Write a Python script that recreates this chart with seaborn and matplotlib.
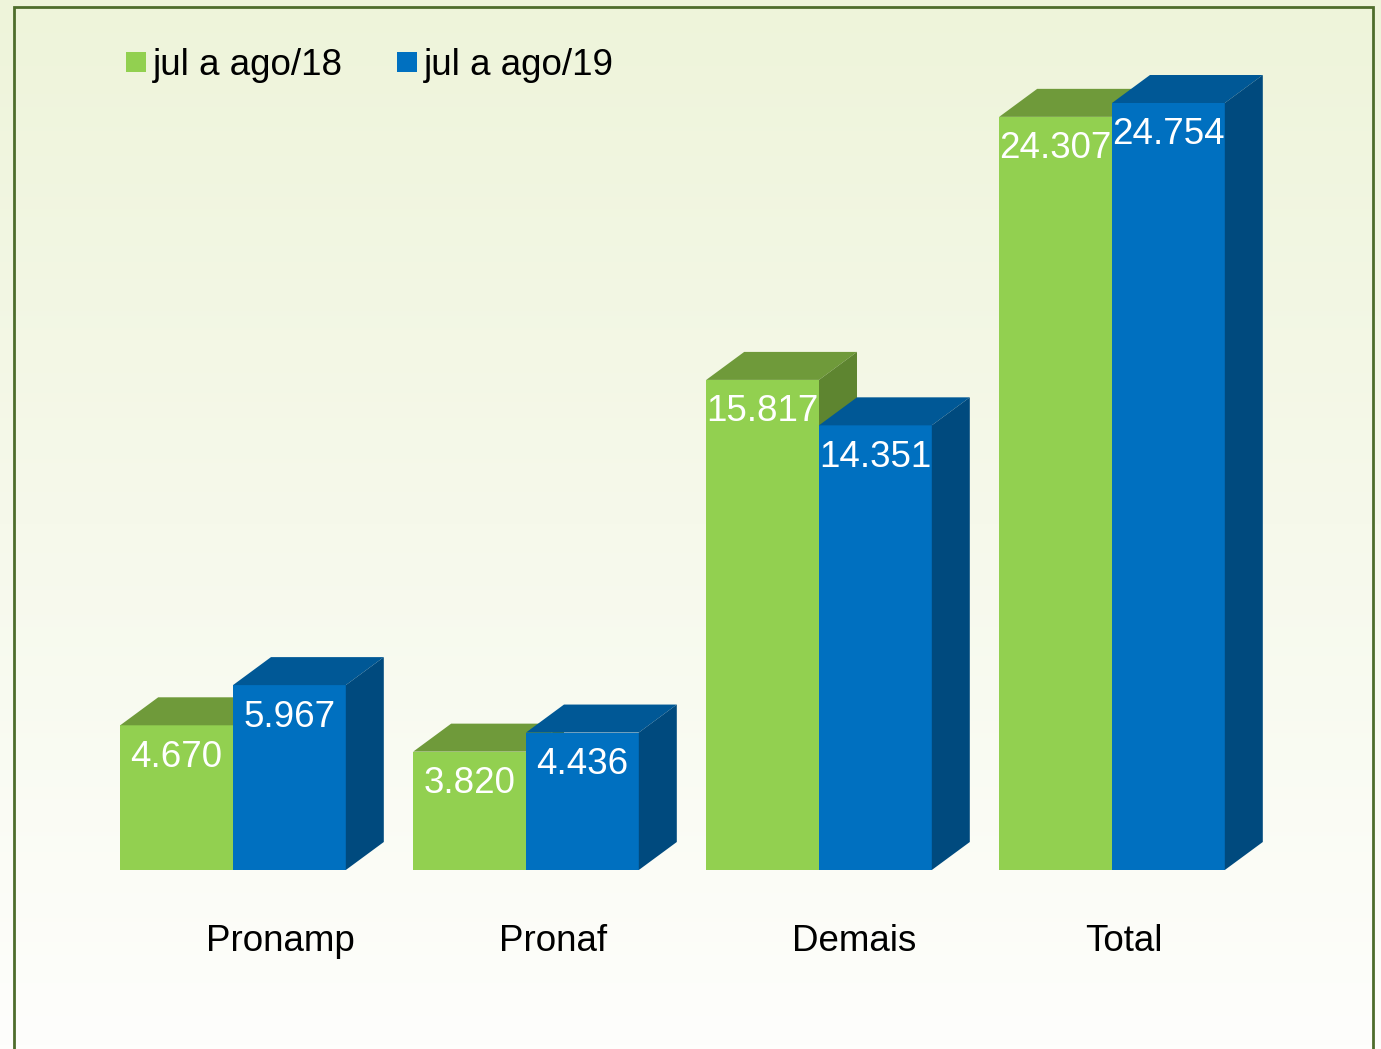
# Credit volumes jul-aug 2018 vs 2019, drawn as pseudo-3D bars

import numpy as np
import pandas as pd
import matplotlib
matplotlib.use("Agg")
import matplotlib.pyplot as plt
from matplotlib.patches import Polygon, Rectangle
from matplotlib.lines import Line2D
import seaborn as sns

# Data
categories = ["Pronamp", "Pronaf", "Demais", "Total"]
periods = ["jul a ago/18", "jul a ago/19"]
values_18 = [4670, 3820, 15817, 24307]
values_19 = [5967, 4436, 14351, 24754]
value_labels_18 = ["4.670", "3.820", "15.817", "24.307"]
value_labels_19 = ["5.967", "4.436", "14.351", "24.754"]

front_colors = ["#92d050", "#0070c0"]
top_colors = ["#6f9a3a", "#005896"]
side_colors = ["#5e8530", "#004a7e"]

df = pd.DataFrame({
    "categoria": categories * 2,
    "periodo": [periods[0]] * 4 + [periods[1]] * 4,
    "valor": values_18 + values_19,
})
labels = value_labels_18 + value_labels_19

sns.set_theme(style="white")
plt.rcParams["font.family"] = ["Liberation Sans", "DejaVu Sans"]
plt.rcParams["text.color"] = "black"

W, H = 1381, 1049
fig = plt.figure(figsize=(W / 100, H / 100), dpi=100)

# background gradient over the whole figure
bg = fig.add_axes([0, 0, 1, 1], zorder=-5)
top_c = np.array(matplotlib.colors.to_rgb("#eef4da"))
bot_c = np.array(matplotlib.colors.to_rgb("#fefefc"))
t = np.linspace(0, 1, 256)[:, None]
grad = top_c[None, :] * (1 - t) + bot_c[None, :] * t
bg.imshow(grad[:, None, :], aspect="auto", extent=[0, 1, 0, 1], origin="upper")
bg.set_axis_off()
bg.add_patch(Rectangle((14 / W, -0.05), (1373 - 14) / W, 1 - 7 / H + 0.05,
                       fill=False, edgecolor="#4e6d2c", linewidth=2,
                       transform=bg.transAxes))

# main axes: bottom edge at the bar baseline
left_px, right_px, top_px, base_px = 14, 1373, 7, 870
ax = fig.add_axes([left_px / W, (H - base_px) / H,
                   (right_px - left_px) / W, (base_px - top_px) / H])
ax.patch.set_alpha(0)

sns.barplot(data=df, x="categoria", y="valor", hue="periodo",
            palette=front_colors, width=0.77, saturation=1,
            linewidth=0, legend=False, ax=ax)

px_per_cat = 293
units_per_px = 24754 / 767
ax.set_xlim((left_px - 233) / px_per_cat, (right_px - 233) / px_per_cat)
ax.set_ylim(0, (base_px - top_px) * units_per_px)

# depth of the 3D effect in data units
dx = 38 / px_per_cat
dy = 28 * units_per_px

for h, cont in enumerate(ax.containers):
    for i, bar in enumerate(cont):
        x0 = bar.get_x()
        w = bar.get_width()
        y1 = bar.get_height()
        z = 10 * i + 3 * h
        bar.set_zorder(z + 1)
        top = Polygon([(x0, y1), (x0 + dx, y1 + dy), (x0 + w + dx, y1 + dy), (x0 + w, y1)],
                      closed=True, facecolor=top_colors[h], edgecolor="none", zorder=z + 2)
        side = Polygon([(x0 + w, 0), (x0 + w, y1), (x0 + w + dx, y1 + dy), (x0 + w + dx, dy)],
                       closed=True, facecolor=side_colors[h], edgecolor="none", zorder=z + 2)
        ax.add_patch(top)
        ax.add_patch(side)
        ax.annotate(labels[h * 4 + i], (x0 + w / 2, y1), xytext=(0, -23),
                    textcoords="offset points", ha="center", va="center",
                    color="white", fontsize=26.5, zorder=50)

# category names are left aligned a little left of each group centre
ax.set_xticks(np.arange(len(categories)) - 0.092)
ax.set_xticklabels(categories, fontsize=26.5, color="black", ha="left")
ax.tick_params(axis="x", length=0, pad=39)
ax.set_yticks([])
ax.set_xlabel("")
ax.set_ylabel("")
for s in ax.spines.values():
    s.set_visible(False)

handles = [Line2D([], [], marker="s", linestyle="none", markersize=14,
                  markerfacecolor=c, markeredgewidth=0) for c in front_colors]
leg = fig.legend(handles, periods, loc="upper left", bbox_to_anchor=(112 / W, 1 - 33 / H),
                 ncol=2, frameon=False, fontsize=26.5, handlelength=0.5,
                 handletextpad=0.2, columnspacing=1.5, borderaxespad=0)
for txt in leg.get_texts():
    txt.set_color("black")

fig.savefig("out.png", dpi=100)
plt.close(fig)
